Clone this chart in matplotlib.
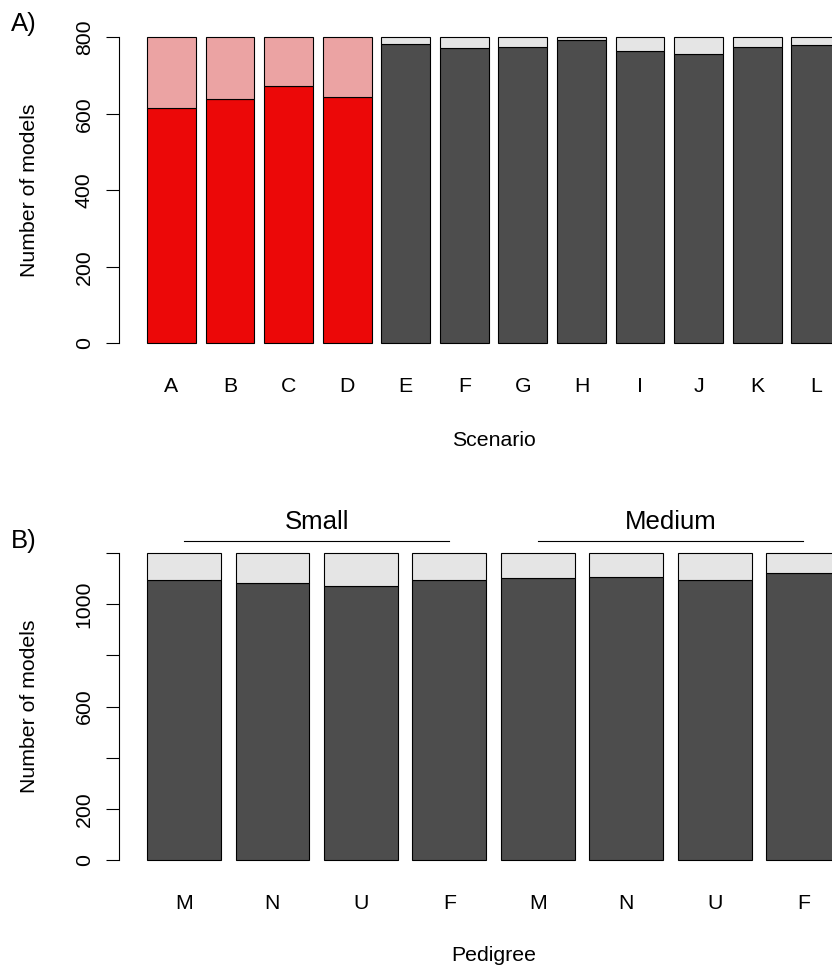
import matplotlib

matplotlib.use("Agg")
import matplotlib.pyplot as plt  # noqa: E402
import numpy as np  # noqa: E402

plt.rcParams["font.family"] = ["Liberation Sans", "DejaVu Sans"]

W, H = 832, 967  # output size in pixels

# Panel A: models per scenario (successful part + remainder up to total)
SCENARIOS = list("ABCDEFGHIJKL")
SCEN_OK = [615, 639, 673, 644, 783, 771, 776, 793, 763, 757, 775, 781]
SCEN_TOTAL = [800] * 12
SCEN_HIGHLIGHT = [True, True, True, True] + [False] * 8

# Panel B: models per pedigree, grouped by population size
PEDIGREE = ["M", "N", "U", "F", "M", "N", "U", "F"]
PED_OK = [1094, 1085, 1070, 1096, 1104, 1108, 1094, 1122]
PED_TOTAL = [1200] * 8
SIZE_GROUPS = ["Small", "Medium"]
GROUP_LEN = 4

RED = "#EC0808"
PINK = "#EBA3A3"
DARK = "#4D4D4D"
LIGHT = "#E5E5E5"

FS = 15.3
FS_BIG = 18.5

PLOT_LEFT = 119.3
PLOT_WIDTH = 748.6  # plot region runs past the right edge of the image


def px_axes(fig, left, top, width, height):
    """Add axes from a pixel box (top-left origin)."""
    return fig.add_axes([left / W, 1 - (top + height) / H, width / W, height / H])


def bar_centres(n, space=0.2, width=1.0):
    # same layout as R's barplot(): bars of width 1 separated by 0.2
    return space + width / 2 + np.arange(n) * (space + width)


def style_axes(ax, ymax, yticks, ylabels, xlabels, x):
    for s in ("top", "right", "bottom"):
        ax.spines[s].set_visible(False)
    ax.spines["left"].set_bounds(0, ymax)
    ax.spines["left"].set_linewidth(0.8)
    ax.set_yticks(yticks)
    ax.set_yticklabels(ylabels, rotation=90, va="center", fontsize=FS)
    ax.tick_params(axis="y", length=9.4, width=0.8, pad=9)
    ax.set_xticks(x)
    ax.set_xticklabels(xlabels, fontsize=FS)
    ax.tick_params(axis="x", length=0, pad=15.3)


def set_r_xlim(ax, x):
    lo, hi = x[0] - 0.5, x[-1] + 0.5
    ext = 0.04 * (hi - lo)
    ax.set_xlim(lo - ext, hi + ext)


def stacked(ax, x, ok, total, low_cols, high_cols):
    ok = np.asarray(ok)
    rest = np.asarray(total) - ok
    ax.bar(x, ok, width=1.0, color=low_cols, edgecolor="black", linewidth=0.8)
    ax.bar(x, rest, bottom=ok, width=1.0, color=high_cols, edgecolor="black", linewidth=0.8)


fig = plt.figure(figsize=(W / 100, H / 100), dpi=100)

# ---- A) scenarios
axA = px_axes(fig, PLOT_LEFT, 25.1, PLOT_WIDTH, 330.4)
xA = bar_centres(len(SCENARIOS))
low = [RED if h else DARK for h in SCEN_HIGHLIGHT]
high = [PINK if h else LIGHT for h in SCEN_HIGHLIGHT]
stacked(axA, xA, SCEN_OK, SCEN_TOTAL, low, high)
set_r_xlim(axA, xA)
axA.set_ylim(-0.04 * 800, 800 * 1.04)
style_axes(axA, 800, [0, 200, 400, 600, 800], ["0", "200", "400", "600", "800"], SCENARIOS, xA)

# ---- B) pedigrees
axB = px_axes(fig, PLOT_LEFT, 540.9, PLOT_WIDTH, 331.4)
xB = bar_centres(len(PEDIGREE))
stacked(axB, xB, PED_OK, PED_TOTAL, DARK, LIGHT)
set_r_xlim(axB, xB)
axB.set_ylim(-0.04 * 1200, 1200 * 1.04)
style_axes(axB, 1200, np.arange(0, 1201, 200),
           ["0", "200", "", "600", "", "1000", ""], PEDIGREE, xB)

# group brackets above panel B
ytop = axB.get_ylim()[1]
for g, name in enumerate(SIZE_GROUPS):
    x0 = xB[g * GROUP_LEN]
    x1 = xB[(g + 1) * GROUP_LEN - 1]
    axB.plot([x0, x1], [ytop, ytop], color="black", lw=0.8, clip_on=False)
    axB.annotate(name, xy=((x0 + x1) / 2, ytop), xytext=(0, 8.5), textcoords="offset points",
                 ha="center", va="baseline", fontsize=FS_BIG, annotation_clip=False)

# labels placed in pixel coordinates
xmid = (PLOT_LEFT + PLOT_WIDTH / 2) / W
fig.text(xmid, 1 - 445.7 / H, "Scenario", ha="center", va="baseline", fontsize=FS)
fig.text(xmid, 1 - 960.7 / H, "Pedigree", ha="center", va="baseline", fontsize=FS)
fig.text(30 / W, 1 - 190.3 / H, "Number of models", rotation=90, ha="center", va="center", fontsize=FS)
fig.text(30 / W, 1 - 706.6 / H, "Number of models", rotation=90, ha="center", va="center", fontsize=FS)
fig.text(11 / W, 1 - 31 / H, "A)", ha="left", va="baseline", fontsize=FS_BIG)
fig.text(11 / W, 1 - 548 / H, "B)", ha="left", va="baseline", fontsize=FS_BIG)

fig.savefig("out.png", dpi=100)
